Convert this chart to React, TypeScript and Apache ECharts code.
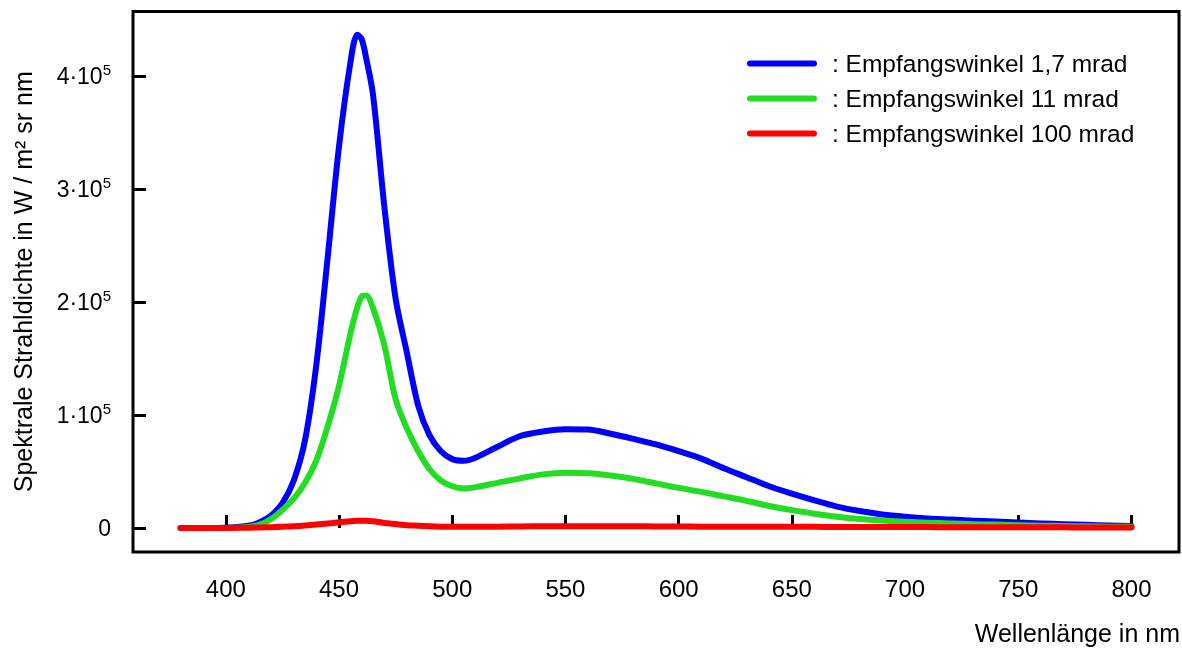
import React, { useEffect, useRef } from "react";
import * as echarts from "echarts";

const wavelengths = [380, 390, 400, 410, 415, 420, 425, 430, 435, 440, 445, 450, 455, 458, 460, 462, 465, 470, 475, 480, 485, 490, 495, 500, 505, 510, 520, 530, 540, 550, 560, 570, 580, 590, 600, 610, 620, 630, 640, 650, 660, 670, 680, 690, 700, 710, 720, 730, 740, 750, 760, 770, 780, 790, 800];

// values in units of 1e5 W / m² sr nm
const blue17 = [0, 0, 0.002, 0.02, 0.05, 0.11, 0.22, 0.42, 0.78, 1.45, 2.4, 3.38, 4.12, 4.37, 4.33, 4.16, 3.84, 2.85, 2.03, 1.55, 1.08, 0.82, 0.68, 0.61, 0.595, 0.62, 0.72, 0.815, 0.855, 0.875, 0.872, 0.835, 0.79, 0.74, 0.68, 0.615, 0.53, 0.45, 0.37, 0.305, 0.245, 0.19, 0.15, 0.12, 0.1, 0.085, 0.075, 0.065, 0.057, 0.048, 0.04, 0.034, 0.028, 0.022, 0.018];
const green11 = [0, 0, 0.001, 0.01, 0.03, 0.08, 0.16, 0.26, 0.4, 0.6, 0.9, 1.26, 1.72, 1.95, 2.05, 2.06, 1.95, 1.62, 1.14, 0.88, 0.68, 0.52, 0.42, 0.37, 0.35, 0.36, 0.4, 0.44, 0.475, 0.49, 0.485, 0.465, 0.435, 0.395, 0.355, 0.32, 0.28, 0.24, 0.195, 0.158, 0.127, 0.1, 0.08, 0.066, 0.055, 0.047, 0.04, 0.034, 0.03, 0.025, 0.021, 0.018, 0.015, 0.012, 0.01];
const red100 = [0, 0, 0.001, 0.003, 0.005, 0.007, 0.01, 0.015, 0.022, 0.03, 0.04, 0.05, 0.06, 0.064, 0.065, 0.065, 0.06, 0.045, 0.035, 0.025, 0.02, 0.015, 0.012, 0.01, 0.01, 0.01, 0.012, 0.014, 0.015, 0.016, 0.016, 0.016, 0.015, 0.014, 0.013, 0.012, 0.012, 0.011, 0.011, 0.01, 0.01, 0.009, 0.009, 0.008, 0.008, 0.008, 0.007, 0.007, 0.007, 0.006, 0.006, 0.006, 0.005, 0.005, 0.005];

const seriesNames = ["Empfangswinkel 1,7 mrad", "Empfangswinkel 11 mrad", "Empfangswinkel 100 mrad"];
const seriesColors = ["#0000ff", "#22dd22", "#ff0000"];
const xTicks = [400, 450, 500, 550, 600, 650, 700, 750, 800];
const yTicks = [0, 100000, 200000, 300000, 400000];
const xAxisName = "Wellenlänge in nm";
const yAxisName = "Spektrale Strahldichte in W / m² sr nm";

const FONT = "'Liberation Sans', Arial, sans-serif";

export default function App() {
  const ref = useRef<HTMLDivElement>(null);
  useEffect(() => {
    if (!ref.current) return;
    const chart = echarts.init(ref.current, null, { renderer: "svg" });
    const allSeries = [blue17, green11, red100];
    const toPairs = (vals: number[]) => wavelengths.map((w, i) => [w, vals[i] * 100000]);
    const legendIcon = "path://M3,0 L67,0 A3,3 0 0 1 67,6 L3,6 A3,3 0 0 1 3,0 Z";
    chart.setOption({
      animation: false,
      textStyle: { fontFamily: FONT },
      grid: {
        left: 133,
        right: 3,
        top: 11.5,
        bottom: 96,
        show: true,
        borderColor: "#000",
        borderWidth: 3,
        backgroundColor: "transparent",
        containLabel: false,
        outerBoundsMode: "none",
      },
      graphic: [
        {
          type: "text",
          right: 2,
          top: 620,
          style: { text: xAxisName, fontSize: 25, fill: "#000", fontFamily: FONT },
        },
      ],
      legend: {
        orient: "vertical",
        left: 747,
        top: 51,
        padding: 0,
        itemWidth: 70,
        itemHeight: 6,
        itemGap: 10,
        icon: legendIcon,
        formatter: (n: string) => ": " + n,
        textStyle: { fontSize: 24.5, color: "#000", fontFamily: FONT, lineHeight: 24, padding: [0, 0, 0, 10] },
        data: seriesNames,
      },
      xAxis: {
        type: "value",
        min: 359,
        max: 821,
        axisLine: { show: false },
        splitLine: { show: false },
        axisTick: { show: true, inside: true, length: 13, lineStyle: { color: "#000", width: 3 }, customValues: xTicks },
        axisLabel: { fontSize: 24, color: "#000", fontFamily: FONT, margin: 24, customValues: xTicks },
      },
      yAxis: {
        type: "value",
        min: -21260,
        max: 457500,
        name: yAxisName,
        nameLocation: "middle",
        nameGap: 98,
        nameTextStyle: { fontSize: 25, color: "#000", fontFamily: FONT },
        axisLine: { show: false },
        splitLine: { show: false },
        axisTick: { show: true, inside: true, length: 13, lineStyle: { color: "#000", width: 3 }, customValues: yTicks },
        axisLabel: {
          margin: 22,
          customValues: yTicks,
          formatter: (v: number) => (v === 0 ? "{a|0}" : "{a|" + Math.round(v / 100000) + "·10}{s|5}"),
          rich: {
            a: { fontSize: 23, color: "#000", fontFamily: FONT, lineHeight: 28 },
            s: { fontSize: 15, color: "#000", fontFamily: FONT, verticalAlign: "top", lineHeight: 28, padding: [0, 0, 14, 0] },
          },
        },
      },
      series: allSeries.map((vals, i) => ({
        name: seriesNames[i],
        type: "line",
        data: toPairs(vals),
        showSymbol: false,
        symbol: "none",
        smooth: 0.3,
        color: seriesColors[i],
        lineStyle: { width: 6, color: seriesColors[i], cap: "round", join: "round" },
        z: 10 + i,
      })),
    });
    return () => chart.dispose();
  }, []);
  return <div ref={ref} style={{ position: "fixed", left: 0, top: 0, width: 1182, height: 648 }} />;
}
